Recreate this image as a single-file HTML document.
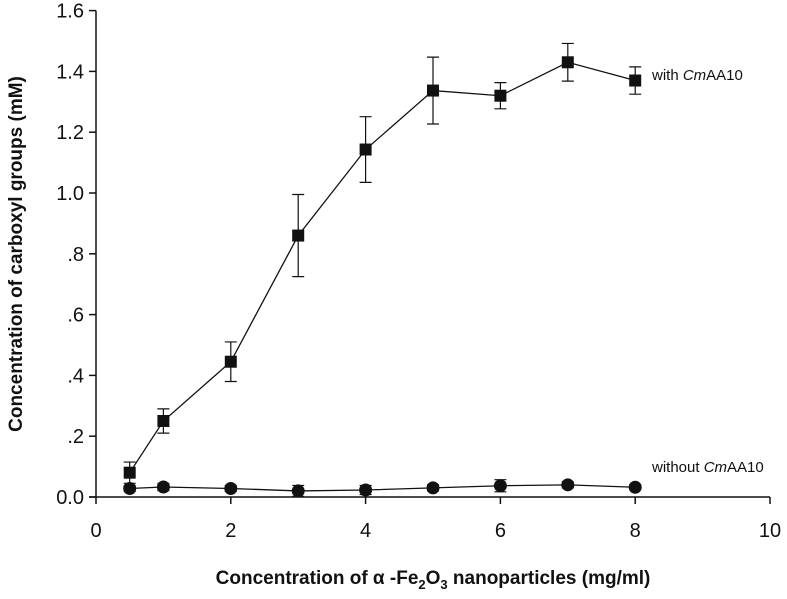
<!DOCTYPE html>
<html><head><meta charset="utf-8"><style>
body{margin:0;background:#fff}
svg text{font-family:"Liberation Sans",Arial,sans-serif;fill:#111}
</style></head><body>
<svg id="chart" width="787" height="594">
<g id="axes"></g><g id="marks"></g>
<text x="652" y="80" font-size="15">with <tspan font-style="italic">Cm</tspan>AA10</text>
<text x="652" y="472" font-size="15">without <tspan font-style="italic">Cm</tspan>AA10</text>
<text x="433" y="584" font-size="19" font-weight="bold" text-anchor="middle">Concentration of α -Fe<tspan font-size="13" dy="5">2</tspan><tspan dy="-5">O</tspan><tspan font-size="13" dy="5">3</tspan><tspan dy="-5"> nanoparticles (mg/ml)</tspan></text>
<text transform="translate(22,254) rotate(-90)" font-size="19" font-weight="bold" text-anchor="middle">Concentration of carboxyl groups (mM)</text>
</svg>
<script>
const xs=[0.5,1,2,3,4,5,6,7,8];
const withVals=[0.08,0.25,0.445,0.86,1.143,1.337,1.32,1.43,1.37];
const withErr=[0.035,0.04,0.065,0.135,0.108,0.11,0.043,0.062,0.045];
const withoutVals=[0.028,0.033,0.028,0.02,0.023,0.03,0.037,0.04,0.032];
const withoutErr=[0.01,0.012,0.01,0.018,0.015,0.01,0.02,0.01,0.008];
const xTicks=[0,2,4,6,8,10];
const yTicks=[0,0.2,0.4,0.6,0.8,1.0,1.2,1.4,1.6];
const yLabels=["0.0",".2",".4",".6",".8","1.0","1.2","1.4","1.6"];
const X=v=>96+v*67.4, Y=v=>497-v*304;
const NS="http://www.w3.org/2000/svg";
function mk(p,t,a){const e=document.createElementNS(NS,t);for(const k in a)e.setAttribute(k,a[k]);p.appendChild(e);return e;}
const ax=document.getElementById('axes'),mg=document.getElementById('marks');
let l=mk(ax,'line',{x1:96,y1:Y(1.6),x2:96,y2:Y(0),stroke:'#111','stroke-width':1.5});


l=mk(ax,'line',{x1:89,y1:Y(0),x2:X(10),y2:Y(0),stroke:'#111','stroke-width':1.5});


yTicks.forEach((v,i)=>{mk(ax,'line',{x1:89,y1:Y(v),x2:96,y2:Y(v),stroke:'#111','stroke-width':1.5});
const t=mk(ax,'text',{x:84,y:Y(v)+7,'font-size':20,'text-anchor':'end'});t.textContent=yLabels[i];

});
xTicks.forEach(v=>{mk(ax,'line',{x1:X(v),y1:Y(0),x2:X(v),y2:Y(0)+7,stroke:'#111','stroke-width':1.5});
const t=mk(ax,'text',{x:X(v),y:537,'font-size':20,'text-anchor':'middle'});t.textContent=v;

});
function series(vals,errs,shape,name){
const pl=mk(mg,'polyline',{points:xs.map((x,i)=>X(x)+','+Y(vals[i])).join(' '),fill:'none',stroke:'#111','stroke-width':1.3});


xs.forEach((x,i)=>{const cx=X(x),cy=Y(vals[i]),t=Y(vals[i]+errs[i]),b=Y(vals[i]-errs[i]);
mk(mg,'path',{d:`M${cx},${t}V${b}M${cx-6},${t}H${cx+6}M${cx-6},${b}H${cx+6}`,stroke:'#111','stroke-width':1.2,fill:'none'});
let m=shape==='sq'?mk(mg,'rect',{x:cx-6,y:cy-6,width:12,height:12,fill:'#111'}):mk(mg,'circle',{cx:cx,cy:cy,r:6.5,fill:'#111'});

});}
series(withoutVals,withoutErr,'c','without-cmaa10');
series(withVals,withErr,'sq','with-cmaa10');
</script>
</body></html>
